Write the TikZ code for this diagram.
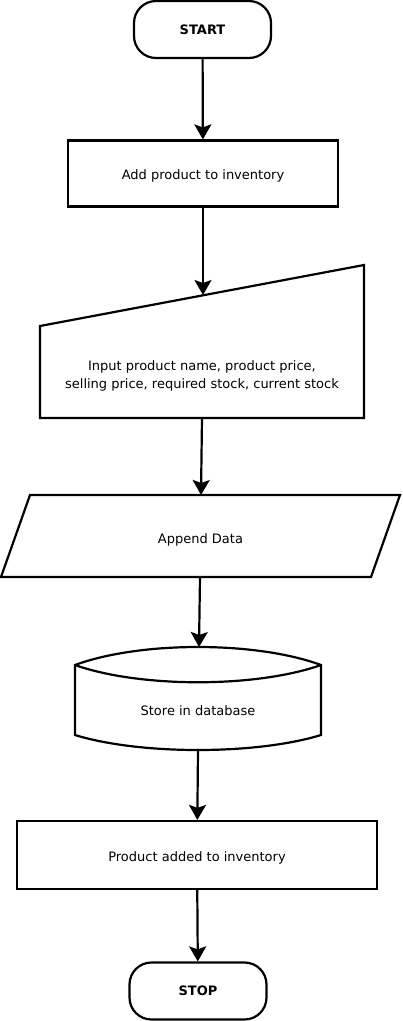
\documentclass[tikz,border=0pt]{standalone}
\usepackage{fontspec}
\setmainfont{DejaVu Sans}
\usetikzlibrary{arrows.meta}

\begin{document}
\begin{tikzpicture}
    [
        x=1pt, y=-1pt,
        line width=2.2pt,
        font=\fontsize{13}{18}\selectfont,
        term/.style={draw, rounded corners=22pt, minimum width=137pt, minimum height=57pt, font=\fontsize{13}{18}\selectfont\bfseries},
        proc/.style={draw, minimum height=66pt, text height=14pt, text depth=2pt},
        txt/.style={align=center},
        flow/.style={-{Stealth[length=15pt, width=17pt, inset=3pt]}},
    ]

    \useasboundingbox (0,0) rectangle (402,1021);

    \node [term] (start) at (202.5, 29.5) {START};
    \node [proc, minimum width=270pt] (add) at (203, 173.5) {Add product to inventory};

    \draw (40, 326) -- (364, 265) -- (364, 418) -- (40, 418) -- cycle;
    \node [txt] (inp) at (202, 375.5) {Input product name, product price,\\selling price, required stock, current stock};
    \coordinate (inptop) at (203, 295);
    \coordinate (inpbot) at (202, 418);

    \draw (30, 495) -- (400, 495) -- (371, 577) -- (1, 577) -- cycle;
    \node [txt] (app) at (200.5, 539.5) {Append Data};
    \coordinate (apptop) at (201, 495);
    \coordinate (appbot) at (200, 577);

    \draw (75, 665) .. controls (140, 641) and (256, 641) .. (321, 665) -- (321, 735)
        .. controls (256, 755) and (140, 755) .. (75, 735) -- cycle;
    \draw (75, 665) .. controls (140, 688) and (256, 688) .. (321, 665);
    \node [txt] (db) at (198, 711) {Store in database};
    \coordinate (dbtop) at (199, 647);
    \coordinate (dbbot) at (198, 750);

    \node [proc, minimum width=360pt, minimum height=68pt] (done) at (197, 855) {Product added to inventory};
    \node [term] (stop) at (198, 991) {STOP};

    \draw [flow] (start) -- (add);
    \draw [flow] (add) -- (inptop);
    \draw [flow] (inpbot) -- (apptop);
    \draw [flow] (appbot) -- (dbtop);
    \draw [flow] (dbbot) -- (done);
    \draw [flow] (done) -- (stop);

\end{tikzpicture}
\end{document}
